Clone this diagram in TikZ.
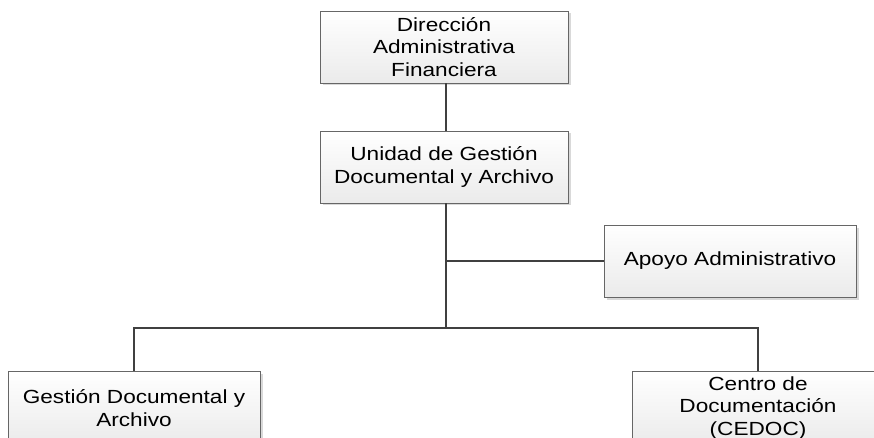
\documentclass[tikz,border=0pt]{standalone}
\usepackage{fontspec}
\setmainfont{Liberation Sans}[FakeStretch=1.19]
\usetikzlibrary{shadows}
\begin{document}
\begin{tikzpicture}[x=1pt,y=-1pt,
  orgbox/.style={draw=black!60, line width=0.9pt, top color=white, bottom color=black!8,
    minimum width=248pt, minimum height=72pt, align=center, inner sep=0pt,
    font=\fontsize{19}{22.5}\selectfont, text=black,
    drop shadow={shadow xshift=2.5pt, shadow yshift=-2.5pt, opacity=0.25, fill=black!60}},
  link/.style={draw=black!75, line width=1.4pt}]
\useasboundingbox (0,0) rectangle (874,438);
\clip (0,0) rectangle (874,438);
\node[orgbox] (d) at (444,47) {Dirección\\Administrativa\\Financiera};
\node[orgbox] (u) at (444,167) {Unidad de Gestión\\Documental y Archivo};
\node[orgbox, minimum width=252pt] (a) at (730,261) {Apoyo Administrativo};
\node[orgbox, minimum width=252pt, minimum height=74pt] (g) at (134,408) {Gestión Documental y\\Archivo};
\node[orgbox, minimum width=252pt, minimum height=74pt] (c) at (758,408) {Centro de\\Documentación\\(CEDOC)};
\coordinate (bus) at (446,328);
\draw[link] ([xshift=2pt]d.south) -- ([xshift=2pt]u.north);
\draw[link] ([xshift=2pt]u.south) -- (bus);
\draw[link] (bus |- a.west) -- (a.west);
\draw[link] (g.north) |- (bus) -| (c.north);
\end{tikzpicture}
\end{document}
